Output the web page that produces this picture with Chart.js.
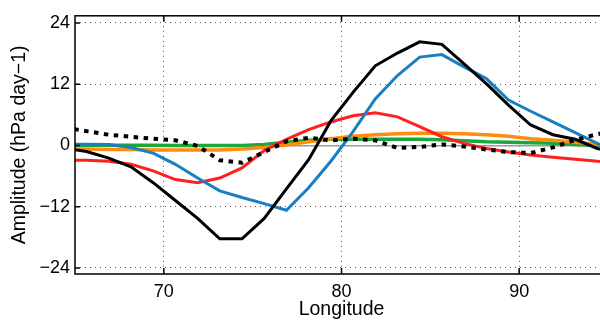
<!DOCTYPE html>
<html><head><meta charset="utf-8">
<script src="https://cdn.jsdelivr.net/npm/chart.js@4/dist/chart.umd.min.js"></script>
<style>
html,body{margin:0;padding:0;overflow:hidden;background:#fff;width:600px;height:320px}
#wrap{position:absolute;left:0;top:0;width:612px;height:320px}
</style>
</head><body><div id="wrap"><canvas id="c" width="612" height="320"></canvas></div>
<script>
const longitudes = [64.4,65.65,66.9,68.15,69.4,70.65,71.9,73.15,74.4,75.65,76.9,78.15,79.4,80.65,81.9,83.15,84.4,85.65,86.9,88.15,89.4,90.65,91.9,93.15,94.4,95.65];
const seriesBlack  = [-0.5,-1.2,-2.5,-4.2,-7.3,-10.8,-14.3,-18.3,-18.3,-14.3,-8.5,-2.8,4.8,10.4,15.6,18.1,20.3,19.8,16.0,12.1,7.9,4.0,2.1,1.2,-0.6,-1.5];
const seriesBlue   = [0.25,0.25,0.2,-0.4,-1.5,-3.7,-6.4,-8.9,-10.2,-11.4,-12.7,-8.3,-3.1,2.7,9.1,13.7,17.3,17.8,15.4,13.1,8.9,6.7,4.6,2.5,0.4,-1.5];
const seriesRed    = [-2.9,-2.9,-3.1,-3.7,-5.0,-6.7,-7.3,-6.4,-4.4,-1.0,1.2,3.1,4.6,5.8,6.4,5.6,3.7,1.7,0.4,-0.6,-1.3,-1.9,-2.3,-2.7,-3.1,-3.3];
const seriesOrange = [-0.7,-0.7,-0.8,-0.8,-0.9,-0.9,-0.9,-0.9,-0.7,-0.4,0.1,0.7,1.3,1.8,2.1,2.3,2.4,2.4,2.3,2.1,1.8,1.3,1.0,0.6,0.2,-0.1];
const seriesGreen  = [0.05,0.05,0.05,0.05,0.05,0.0,0.0,0.0,0.0,0.2,0.6,1.0,1.2,1.2,1.2,1.2,1.2,1.1,0.9,0.7,0.6,0.5,0.4,0.2,0.0,-0.1];
const seriesDotted = [3.5,2.8,2.1,1.7,1.3,1.0,-0.1,-2.9,-3.4,-1.3,0.8,1.5,1.0,1.3,1.0,-0.5,-0.3,0.2,-0.2,-0.8,-1.3,-1.5,-0.4,1.1,2.2,3.0];
const xTicks = [70, 80, 90];
const yTicks = [-24, -12, 0, 12, 24];

const FONT = "'Liberation Sans', Arial, Helvetica, sans-serif";
const pts = vals => vals.map((v, i) => ({x: longitudes[i], y: v}));
const ds = (label, vals, color, width, dash) => ({
  label, data: pts(vals), borderColor: color, backgroundColor: color,
  borderWidth: width, borderDash: dash || [], pointRadius: 0, tension: 0, fill: false
});

const boxPlugin = {
  id: 'box',
  afterDatasetsDraw(chart) {
    const {ctx, chartArea: a, scales: {x, y}} = chart;
    ctx.save();
    ctx.strokeStyle = '#000';
    ctx.lineWidth = 1.5;
    ctx.setLineDash([]);
    ctx.strokeRect(a.left, a.top, a.right - a.left, a.bottom - a.top);
    ctx.beginPath();
    x.ticks.forEach(t => {
      const px = x.getPixelForValue(t.value);
      ctx.moveTo(px, a.bottom); ctx.lineTo(px, a.bottom - 6);
      ctx.moveTo(px, a.top); ctx.lineTo(px, a.top + 6);
    });
    y.ticks.forEach(t => {
      const py = y.getPixelForValue(t.value);
      ctx.moveTo(a.left, py); ctx.lineTo(a.left + 5, py);
      ctx.moveTo(a.right, py); ctx.lineTo(a.right - 5, py);
    });
    ctx.stroke();
    ctx.restore();
  }
};

new Chart(document.getElementById('c'), {
  type: 'line',
  data: {
    datasets: [
      ds('dotted', seriesDotted, '#000000', 4, [4.5, 5.5]),
      ds('black', seriesBlack, '#000000', 3),
      ds('blue', seriesBlue, '#1a7fc1', 3),
      ds('red', seriesRed, '#ff1f1f', 3),
      ds('orange', seriesOrange, '#ff8c0a', 3.5),
      ds('green', seriesGreen, '#1aa83c', 3.5)
    ]
  },
  options: {
    responsive: false,
    animation: false,
    devicePixelRatio: 1,
    layout: {padding: {top: 12, right: 4, bottom: 0, left: 0}},
    plugins: {legend: {display: false}, tooltip: {enabled: false}},
    scales: {
      x: {
        type: 'linear', min: 65, max: 95,
        afterBuildTicks: s => { s.ticks = xTicks.map(v => ({value: v})); },
        afterFit: s => { s.height = 46; },
        grid: {color: '#555', lineWidth: 1, drawTicks: false},
        border: {display: false, dash: [1, 4]},
        ticks: {font: {family: FONT, size: 18, lineHeight: 1.2}, color: '#000', padding: 7, maxRotation: 0,
                callback: v => String(v)},
        title: {display: true, text: 'Longitude', color: '#000',
                font: {family: FONT, size: 19.5, lineHeight: 1}, padding: {top: 0, bottom: 1}}
      },
      y: {
        type: 'linear', min: -25.2, max: 25.4,
        afterBuildTicks: s => { s.ticks = yTicks.map(v => ({value: v})); },
        afterFit: s => { s.width = 75; },
        grid: {
          color: c => (c.tick && c.tick.value === 0) ? '#9a9a9a' : '#555',
          lineWidth: c => (c.tick && c.tick.value === 0) ? 1.5 : 1,
          drawTicks: false
        },
        border: {display: false, dash: c => (c.tick && c.tick.value === 0) ? [] : [1, 4]},
        ticks: {font: {family: FONT, size: 18}, color: '#000', padding: 5,
                callback: v => v < 0 ? '\u2212' + Math.abs(v) : String(v)},
        title: {display: true, text: 'Amplitude (hPa day\u22121)', color: '#000',
                font: {family: FONT, size: 19.5, lineHeight: 1}, padding: {top: 10, bottom: 0}}
      }
    }
  },
  plugins: [boxPlugin]
});
</script>
</body></html>
